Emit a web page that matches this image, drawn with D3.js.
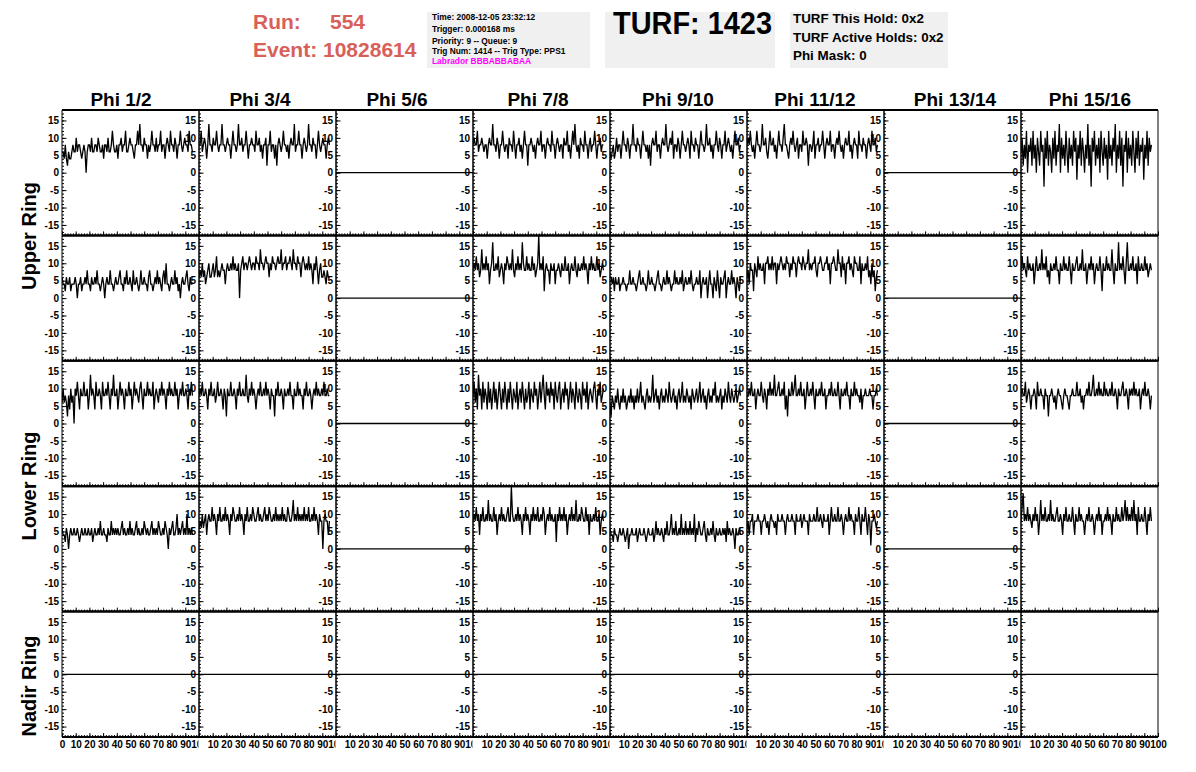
<!DOCTYPE html>
<html><head><meta charset="utf-8">
<script src="https://cdn.jsdelivr.net/npm/d3@7"></script>
<style>
body{margin:0;background:#fff}
svg text{font-family:"Liberation Sans",Arial,Helvetica,sans-serif;font-weight:bold}
</style>
</head><body>
<svg id="c" width="1196" height="772"></svg>
<script>
// ---------------- data ----------------
const columns = ["Phi 1/2","Phi 3/4","Phi 5/6","Phi 7/8","Phi 9/10","Phi 11/12","Phi 13/14","Phi 15/16"];
const ringLabels = ["Upper Ring","Lower Ring","Nadir Ring"];
const yTickValues = [-15,-10,-5,0,5,10,15];
const xTickValues = [0,10,20,30,40,50,60,70,80,90,100];
const sampleStep = 0.8; // ns per sample
const emptyLevel = 0;   // channels with no data sit at 0

const runLabel = "Run:", runNumber = "554", eventLabel = "Event: 10828614";
const infoLines = ["Time: 2008-12-05 23:32:12","Trigger: 0.000168 ms","Priority: 9 -- Queue: 9","Trig Num: 1414 -- Trig Type: PPS1"];
const labradorLine = "Labrador BBBABBABAA";
const turfTitle = "TURF: 1423";
const turfLines = ["TURF This Hold: 0x2","TURF Active Holds: 0x2","Phi Mask: 0"];

// row 1
const r1p12 = [6,6,4,8,4,2,6,4,4,6, 8,6,6,10,6,8,8,6,4,6, 8,6,0,6,8,8,6,10,6,6, 8,8,6,10,8,6,6,8,4,8, 8,6,10,6,6,8,12,8,6,6, 8,4,8,8,10,6,8,8,12,6, 6,8,10,8,8,6,4,8,8,12, 8,14,8,8,6,10,8,8,4,8, 6,8,12,8,8,6,10,6,8,8, 12,6,8,8,4,8,10,8,6,12, 8,8,6,10,8,4,8,8,12,8, 6,8,10,8,8,6,12,8,8,6];
const r1p34 = [8,8,12,6,8,10,8,4,8,14, 8,8,6,10,8,8,12,8,6,8, 8,14,8,8,6,8,10,8,8,4, 8,12,8,8,6,8,14,8,8,10, 6,8,8,12,8,4,8,8,10,8, 8,6,12,8,8,10,6,8,4,8, 8,10,2,8,8,12,6,8,8,4, 8,2,8,10,8,6,8,12,8,8, 6,8,4,8,10,8,8,14,6,8, 8,12,8,8,4,8,10,8,6,8, 14,8,8,6,10,8,8,4,8,12, 8,6,8,10,8,8,4,8,10,8];
const r1p78 = [8,10,8,8,12,6,8,8,10,8, 6,8,8,4,8,10,8,8,14,8, 8,6,10,8,4,8,8,12,8,6, 8,8,4,10,8,8,6,12,8,4, 8,8,10,6,8,4,8,12,8,8, 2,8,8,10,8,6,8,4,8,10, 8,8,12,6,8,8,4,8,10,8, 8,6,12,8,8,4,8,10,8,6, 8,8,4,10,8,8,12,6,8,4, 8,12,8,14,8,6,8,4,10,8, 8,6,12,8,8,4,8,10,6,8, 8,12,8,4,8,8,10,6,8,8];
const r1p910 = [6,4,6,8,4,6,10,6,8,8, 4,8,12,8,8,6,10,8,4,8, 8,14,8,8,6,10,8,8,4,8, 12,8,8,6,8,4,8,2,8,10, 8,8,12,6,8,8,4,8,10,8, 8,14,8,6,8,10,8,12,4,8, 8,6,10,8,4,8,12,8,8,6, 8,10,8,4,12,8,8,6,10,8, 8,4,8,12,8,8,6,8,14,8, 8,10,6,8,4,8,8,12,8,6, 10,8,4,8,8,12,6,8,10,8, 6,8,4,8,12,8,8,10,6,8];
const r1p1112 = [8,10,8,12,8,6,8,4,8,12, 8,8,6,8,14,8,8,10,6,4, 8,12,8,8,10,6,8,4,8,12, 8,8,6,10,14,8,8,6,4,8, 10,8,12,8,6,8,10,4,8,8, 6,12,8,8,10,8,2,8,8,6, 8,12,4,8,8,10,6,8,8,12, 8,4,8,10,8,8,12,6,8,8, 4,8,10,8,12,8,6,8,4,8, 10,8,8,12,6,8,4,8,10,8, 8,4,12,8,8,6,10,8,8,4, 8,10,8,6,12,8,8,10,6,8];
const r1p1516 = [6,10,2,8,4,12,0,8,6,10, 2,12,4,8,0,10,6,2,12,6, 8,-4,10,4,12,2,8,6,0,10, 4,12,2,8,6,14,0,10,4,8, 2,12,6,0,10,4,8,2,12,6, 10,-2,8,4,12,2,10,6,0,8, 4,14,2,8,-4,10,6,12,2,8, 4,10,0,12,6,2,10,4,8,-2, 12,4,8,2,10,6,14,0,8,4, 12,2,10,-4,8,6,12,0,10,4, 8,2,12,6,0,10,4,12,2,8, 6,10,-2,8,4,12,2,10,6,8];
// row 2
const r2p12 = [6,4,4,2,6,4,4,6,2,4, 4,4,6,4,0,4,4,6,2,4, 4,6,4,8,4,4,2,6,4,4, 6,4,8,4,4,2,4,6,4,0, 4,6,4,4,8,4,4,2,4,6, 4,4,6,8,4,4,2,6,4,8, 4,4,6,4,2,8,4,4,6,4, 2,4,8,4,4,6,4,4,2,6, 8,4,4,2,4,6,4,8,4,6, 4,2,6,8,4,10,4,4,2,4, 6,4,4,8,4,6,2,4,0,4, 6,4,4,6,8,4,2,6,4,4];
const r2p34 = [6,8,6,10,6,8,4,6,8,10, 6,6,8,10,6,8,12,6,8,6, 8,10,8,8,4,8,10,8,8,10, 8,12,8,10,8,8,10,0,8,10, 12,8,10,10,8,10,12,10,8,10, 10,8,12,10,10,8,14,10,10,8, 10,12,10,10,6,10,8,12,10,10, 8,10,12,10,10,14,8,10,10,12, 8,10,10,12,10,8,14,10,10,8, 12,10,10,6,10,12,10,8,10,8, 12,8,10,8,4,10,8,12,8,4, 8,10,6,6,8,6,4,8,6,6];
const r2p78 = [8,10,8,12,8,10,6,8,14,8, 10,8,12,8,10,4,8,10,16,8, 8,10,8,12,6,8,10,8,4,10, 8,12,10,8,10,8,14,8,6,10, 8,12,8,10,8,16,10,8,8,12, 8,10,8,8,12,8,10,6,8,10, 18,8,10,8,12,2,8,10,8,8, 4,10,8,8,10,4,8,8,10,8, 6,10,8,8,12,8,8,10,4,8, 10,8,8,12,8,6,10,8,8,10, 8,12,8,10,8,4,10,8,12,8, 10,8,8,12,8,10,6,8,10,8];
const r2p910 = [6,6,4,6,2,6,4,4,6,2, 4,4,6,4,4,2,4,4,8,4, 4,6,4,4,2,4,6,8,4,4, 6,4,4,2,4,8,4,4,6,4, 4,2,4,6,8,4,4,2,4,6, 4,4,8,4,6,4,2,4,4,8, 4,6,4,4,6,4,8,2,4,6, 4,4,6,4,8,4,2,4,4,6, 4,4,8,0,4,6,4,4,6,0, 4,8,4,4,0,6,4,2,8,4, 0,6,4,4,6,8,0,4,6,4, 4,8,4,6,4,0,6,4,2,6];
const r2p1112 = [6,8,4,10,8,8,2,10,8,6, 12,8,10,8,8,10,4,10,10,12, 8,10,8,12,8,10,10,4,10,8, 10,12,10,8,10,8,12,10,10,6, 10,8,12,10,10,6,10,12,10,10, 8,12,10,8,10,10,14,8,10,8, 10,10,12,8,6,10,10,12,10,8, 8,10,10,12,8,10,4,10,10,12, 10,8,8,14,10,10,6,12,8,10, 4,10,10,12,8,10,8,6,12,10, 10,8,8,12,4,10,8,8,10,8, 12,6,8,4,10,6,8,2,6,8];
const r2p1516 = [8,12,8,10,8,6,12,8,10,8, 8,10,4,8,12,8,8,10,8,14, 8,10,8,12,6,8,4,10,8,8, 10,8,12,8,8,4,10,8,8,12, 8,10,8,8,12,8,4,10,8,8, 10,12,8,8,10,8,14,8,8,10, 4,8,10,8,12,8,10,4,8,10, 8,8,12,8,2,10,8,8,12,8, 10,8,8,14,8,4,10,8,8,16, 8,10,8,12,8,4,10,16,8,8, 10,8,12,8,8,10,4,12,8,8, 10,8,8,12,8,10,6,8,10,8];
// row 3
const r3p12 = [6,10,6,8,6,2,8,4,10,6, 8,0,10,8,12,8,4,10,8,8, 12,8,8,10,4,8,14,8,10,8, 4,12,8,8,10,8,4,12,8,8, 10,8,12,8,4,10,8,14,8,8, 10,4,8,12,8,10,8,4,10,8, 8,12,8,10,4,8,12,8,10,8, 6,10,12,8,4,10,8,8,12,8, 10,8,8,12,4,8,10,8,6,10, 8,12,8,10,8,4,10,8,12,8, 10,8,8,12,8,10,4,8,10,8, 12,8,8,10,8,4,10,8,12,8];
const r3p34 = [8,10,8,12,8,8,10,8,4,10, 8,12,8,8,10,6,8,12,8,8, 10,8,4,10,8,2,10,8,8,12, 8,8,10,8,4,10,8,12,8,8, 10,8,8,14,8,6,10,8,12,8, 10,8,4,8,10,8,12,8,8,10, 8,12,8,10,8,4,10,8,8,2, 10,8,12,8,8,10,8,4,10,8, 8,10,8,12,8,8,4,10,8,8, 12,8,10,8,8,4,10,8,12,8, 8,10,8,4,8,10,8,12,8,10, 8,8,10,8,12,8,8,10,8,8];
const r3p78 = [8,12,6,10,4,14,8,10,4,12, 6,10,8,4,12,6,10,4,8,12, 6,10,4,8,12,8,4,10,6,12, 8,4,10,6,12,8,4,10,8,6, 12,4,8,10,6,12,8,4,10,6, 8,12,4,10,8,6,12,8,10,4, 8,12,6,10,14,8,4,12,8,10, 6,12,8,10,4,12,8,6,10,12, 4,8,10,6,12,8,10,4,8,12, 6,10,8,4,12,8,6,10,8,4, 12,8,10,6,12,4,8,10,8,6, 10,12,8,4,10,8,12,6,8,10];
const r3p910 = [6,2,8,6,4,8,6,10,6,4, 8,6,10,6,8,4,6,8,6,10, 6,8,4,8,6,10,6,8,12,6, 8,6,4,8,10,6,8,6,8,14, 6,8,10,6,8,4,8,10,6,8, 6,10,8,6,12,8,6,8,10,6, 8,4,8,10,6,8,12,6,8,6, 10,8,6,8,4,10,8,6,8,10, 6,8,12,6,8,10,6,8,4,8, 10,6,8,6,10,8,12,6,8,6, 8,10,4,8,6,10,8,6,12,8, 6,10,8,6,8,10,6,8,10,8];
const r3p1112 = [8,8,10,8,12,8,8,10,4,8, 10,8,8,12,8,6,10,8,4,10, 8,12,8,10,8,14,8,8,10,12, 8,8,10,8,12,4,8,2,10,8, 8,12,8,10,14,8,8,10,8,12, 8,8,10,4,8,12,8,8,10,8, 12,8,4,10,8,8,10,8,12,8, 8,10,4,8,8,10,8,12,8,8, 10,8,8,12,8,4,10,8,8,10, 8,12,8,8,4,10,8,8,12,8, 10,8,8,6,10,4,8,8,10,8, 8,8,10,8,8,4,8,8,10,8];
const r3p1516 = [8,10,8,8,12,6,8,10,8,4, 8,8,10,8,4,12,8,8,10,8, 8,4,10,8,8,2,8,8,10,8, 6,8,4,8,10,8,8,6,4,8, 10,8,8,6,4,8,8,10,8,8, 8,12,8,8,10,6,8,4,8,8, 10,8,12,8,8,10,14,8,8,10, 8,12,8,10,8,8,12,8,10,8, 8,10,8,12,8,8,10,8,4,10, 8,8,10,12,8,8,10,8,4,10, 8,10,8,12,8,10,8,8,10,4, 8,10,8,12,8,8,10,8,4,8];
// row 4
const r4p12 = [6,4,4,2,6,4,0,4,6,4, 4,6,4,4,6,4,2,4,6,4, 4,6,4,4,6,4,4,6,2,4, 6,4,4,6,4,8,4,4,6,4, 4,2,6,4,4,8,4,6,4,6, 4,6,4,4,6,8,4,6,4,4, 6,4,8,4,6,4,4,6,8,4, 6,4,4,6,4,8,6,4,6,4, 4,6,8,4,6,4,6,4,8,6, 4,4,6,4,8,6,4,0,6,4, 6,8,4,4,6,10,4,6,4,6, 8,4,6,4,10,4,6,4,6,4];
const r4p34 = [6,8,6,10,6,8,10,4,8,10, 8,8,12,8,10,8,4,10,8,12, 8,8,10,8,12,8,10,8,4,10, 8,12,10,8,8,10,8,12,8,10, 8,4,10,8,12,8,8,10,8,12, 10,8,8,10,12,8,10,8,8,10, 12,8,10,8,12,10,8,8,10,8, 12,8,10,8,10,8,12,8,10,8, 8,12,10,8,8,10,14,8,10,8, 12,8,10,8,10,8,12,8,10,8, 12,8,8,10,8,12,8,10,8,4, 10,8,8,0,8,10,8,8,4,8];
const r4p78 = [8,10,8,12,8,10,4,10,8,12, 8,8,10,8,14,8,10,8,8,12, 8,10,4,8,10,8,12,8,10,8, 8,10,12,8,8,18,10,8,8,10, 8,12,8,10,8,4,10,8,12,8, 10,8,4,10,8,12,8,10,8,12, 8,8,10,8,12,10,4,8,10,8, 12,8,10,8,8,10,2,10,8,12, 8,10,8,12,8,10,4,8,10,8, 12,8,10,8,14,8,8,10,8,12, 10,8,8,12,8,10,4,10,8,8, 10,8,12,8,8,10,4,8,10,8];
const r4p910 = [6,4,4,2,6,4,4,2,4,6, 4,4,6,4,2,4,6,0,4,4, 6,4,4,4,6,2,4,6,4,4, 4,6,4,2,4,6,4,4,4,6, 2,4,8,4,6,4,4,6,4,2, 6,4,8,4,4,6,10,4,6,4, 8,4,4,6,4,10,4,6,4,8, 4,6,4,8,4,6,4,10,2,6, 4,8,6,4,4,6,8,4,2,6, 4,4,6,4,8,4,2,6,4,4, 6,4,4,6,4,6,2,8,4,6, 4,4,6,4,0,6,4,4,6,4];
const r4p1112 = [6,8,4,8,8,10,4,8,8,8, 10,8,8,4,8,8,10,8,6,8, 4,8,10,8,8,6,8,4,10,8, 8,8,10,8,8,4,8,10,8,8, 8,10,8,8,4,10,8,8,8,10, 6,8,10,8,8,8,4,10,8,8, 8,10,8,8,12,8,8,10,8,6, 10,8,8,8,10,4,8,12,8,8, 10,8,8,12,8,8,10,8,4,8, 10,8,8,12,8,10,8,8,4,10, 8,8,12,8,4,10,8,8,12,8, 4,10,8,1,8,8,10,8,6,8];
const r4p1516 = [8,12,16,8,10,8,12,8,10,8, 6,10,8,12,8,10,4,8,14,8, 10,8,12,8,8,10,8,14,8,10, 8,8,10,12,8,8,10,8,4,10, 8,12,8,8,10,8,8,12,8,4, 10,8,8,12,8,10,8,8,4,8, 10,8,12,8,8,10,8,4,8,10, 8,12,8,10,4,8,8,10,8,12, 8,10,8,4,10,8,8,12,8,10, 8,8,12,8,10,14,8,12,8,10, 8,12,8,14,8,10,4,12,8,8, 10,8,8,12,8,4,10,8,12,8];

// null = empty channel (flat line at emptyLevel)
const grid = [
  [r1p12, r1p34, null, r1p78, r1p910, r1p1112, null, r1p1516],
  [r2p12, r2p34, null, r2p78, r2p910, r2p1112, null, r2p1516],
  [r3p12, r3p34, null, r3p78, r3p910, r3p1112, null, r3p1516],
  [r4p12, r4p34, null, r4p78, r4p910, r4p1112, null, r4p1516],
  [null, null, null, null, null, null, null, null]
];

// ---------------- layout ----------------
const W = 1196, H = 772;
const padLeft = 62, colW = 137, padTop = 110, rowH = 125.4;
const titleCenters = [121, 260, 397, 538, 678, 815, 955, 1090];
const ringLabelY = [236, 486, 686];
const salmon = "#d95f59";

const svg = d3.select("#c");
svg.append("rect").attr("width", W).attr("height", H).attr("fill", "#fff");

const x = d3.scaleLinear().domain([0, 100]).range([0, colW]);
const y = d3.scaleLinear().domain([-18, 18]).range([rowH, 0]);
const yMinor = d3.range(-17, 18, 1);
const xMinor = d3.range(0, 101, 2);

const defs = svg.append("defs");
defs.append("clipPath").attr("id", "panelClip").append("rect")
  .attr("x", 0).attr("y", 0).attr("width", colW).attr("height", rowH);
columns.forEach((c, i) => {
  const x0 = i === 0 ? -20 : 0;
  const x1 = i === columns.length - 1 ? colW + 40 : colW - 0.5;
  defs.append("clipPath").attr("id", "xlab" + i).append("rect")
    .attr("x", x0).attr("y", -10).attr("width", x1 - x0).attr("height", 40);
});

const line = d3.line().x((d, i) => x(i * sampleStep)).y(d => y(d));
const fmt = d => String(d);

function styleAxis(g) {
  g.attr("font-family", null).attr("font-size", null);
  g.selectAll("line").attr("stroke", "#000");
  g.selectAll("path.domain").remove();
  g.selectAll("text").attr("fill", "#000").style("font-size", "10px").style("font-weight", "bold");
}

grid.forEach((row, r) => {
  row.forEach((vals, c) => {
    const g = svg.append("g").attr("transform", `translate(${padLeft + c * colW},${padTop + r * rowH})`);
    const plot = g.append("g").attr("clip-path", "url(#panelClip)");
    if (vals) {
      plot.append("path").datum(vals).attr("d", line)
        .attr("fill", "none").attr("stroke", "#000").attr("stroke-width", 1.3);
    } else {
      plot.append("line").attr("x1", x(0)).attr("x2", x(100))
        .attr("y1", y(emptyLevel)).attr("y2", y(emptyLevel))
        .attr("stroke", "#000").attr("stroke-width", 1.3);
    }
    g.append("g").call(d3.axisLeft(y).tickValues(yMinor).tickSize(-2).tickFormat("")).call(styleAxis);
    g.append("g").call(d3.axisLeft(y).tickValues(yTickValues).tickSize(-4.5).tickPadding(3).tickFormat(fmt)).call(styleAxis);
    const xb = g.append("g").attr("transform", `translate(0,${rowH})`);
    xb.append("g").call(d3.axisBottom(x).tickValues(xMinor).tickSize(-2).tickFormat("")).call(styleAxis);
    const isBottom = r === grid.length - 1;
    const xm = xb.append("g").call(d3.axisBottom(x).tickValues(xTickValues).tickSize(-4).tickPadding(4)
      .tickFormat(d => !isBottom ? "" : (d === 0 && c > 0 ? "" : fmt(d)))).call(styleAxis);
    if (isBottom) xm.attr("clip-path", `url(#xlab${c})`);
    g.append("line").attr("x1", 0).attr("x2", 0).attr("y1", 0).attr("y2", rowH).attr("stroke", "#000").attr("stroke-width", 1);
    g.append("line").attr("x1", colW).attr("x2", colW).attr("y1", 0).attr("y2", rowH).attr("stroke", "#000").attr("stroke-width", 1);
    g.append("line").attr("x1", 0).attr("x2", colW).attr("y1", 0).attr("y2", 0).attr("stroke", "#000").attr("stroke-width", 2);
    g.append("line").attr("x1", 0).attr("x2", colW).attr("y1", rowH).attr("y2", rowH).attr("stroke", "#000").attr("stroke-width", 2);
  });
});

// column titles
svg.append("g").selectAll("text").data(columns).join("text")
  .attr("x", (d, i) => titleCenters[i]).attr("y", 106)
  .attr("text-anchor", "middle").style("font-size", "19px").text(d => d);

// ring labels
svg.append("g").selectAll("text").data(ringLabels).join("text")
  .attr("transform", (d, i) => `translate(36,${ringLabelY[i]}) rotate(-90)`)
  .attr("text-anchor", "middle").style("font-size", "20px").text(d => d);

// header
const hdr = svg.append("g");
hdr.append("text").attr("x", 253).attr("y", 29).attr("fill", salmon).style("font-size", "21px").text(runLabel);
hdr.append("text").attr("x", 330).attr("y", 29).attr("fill", salmon).style("font-size", "21px").text(runNumber);
hdr.append("text").attr("x", 253).attr("y", 57).attr("fill", salmon).style("font-size", "21px").text(eventLabel);

hdr.append("rect").attr("x", 427).attr("y", 12).attr("width", 163).attr("height", 56).attr("fill", "#f0f0f0");
const infoY = [20, 32, 43.5, 54];
infoLines.forEach((t, i) => hdr.append("text").attr("x", 432).attr("y", infoY[i]).style("font-size", "8.4px").attr("fill", "#000").text(t));
hdr.append("text").attr("x", 432).attr("y", 64).style("font-size", "8.4px").attr("fill", "#ff00ff").text(labradorLine);

hdr.append("rect").attr("x", 605).attr("y", 12).attr("width", 170).attr("height", 56).attr("fill", "#f0f0f0");
hdr.append("text").attr("x", 613).attr("y", 34).style("font-size", "32px").attr("fill", "#000")
  .attr("textLength", 159).attr("lengthAdjust", "spacingAndGlyphs").text(turfTitle);

hdr.append("rect").attr("x", 790).attr("y", 12).attr("width", 158).attr("height", 56).attr("fill", "#f0f0f0");
const turfY = [23, 42, 60];
turfLines.forEach((t, i) => hdr.append("text").attr("x", 793).attr("y", turfY[i]).style("font-size", "13.4px").attr("fill", "#000").text(t));
</script>
</body></html>
